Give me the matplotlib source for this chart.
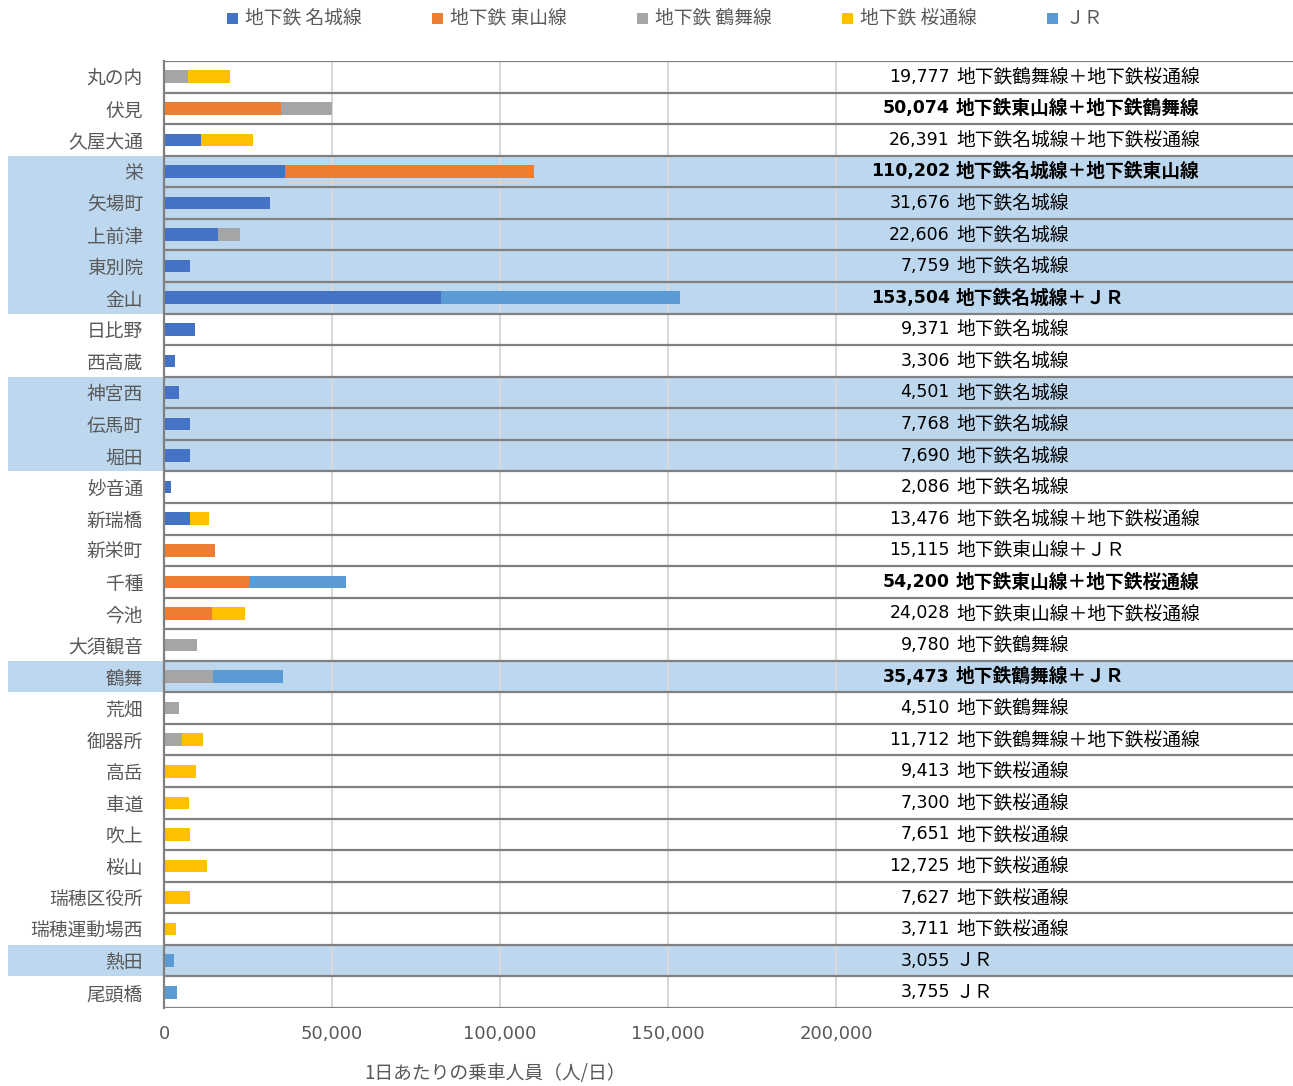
import matplotlib
matplotlib.use('Agg')
import matplotlib.pyplot as plt
from matplotlib.patches import Rectangle
import numpy as np

plt.rcParams['font.family'] = ['Noto Sans CJK JP', 'DejaVu Sans']

# 駅名
stations = ['丸の内', '伏見', '久屋大通', '栄', '矢場町', '上前津', '東別院', '金山',
            '日比野', '西高蔵', '神宮西', '伝馬町', '堀田', '妙音通', '新瑞橋', '新栄町',
            '千種', '今池', '大須観音', '鶴舞', '荒畑', '御器所', '高岳', '車道',
            '吹上', '桜山', '瑞穂区役所', '瑞穂運動場西', '熱田', '尾頭橋']

series_names = ['地下鉄 名城線', '地下鉄 東山線', '地下鉄 鶴舞線', '地下鉄 桜通線', 'ＪＲ']
colors = ['#4472C4', '#ED7D31', '#A5A5A5', '#FFC000', '#5B9BD5']

# 各路線の乗車人員
meijo = [0, 0, 11000, 36000, 31676, 16000, 7759, 82400, 9371, 3306, 4501, 7768, 7690, 2086, 7700,
         0, 0, 0, 0, 0, 0, 0, 0, 0, 0, 0, 0, 0, 0, 0]
higashiyama = [0, 34800, 0, 74202, 0, 0, 0, 0, 0, 0, 0, 0, 0, 0, 0,
               15115, 25300, 14300, 0, 0, 0, 0, 0, 0, 0, 0, 0, 0, 0, 0]
tsurumai = [7100, 15274, 0, 0, 0, 6606, 0, 0, 0, 0, 0, 0, 0, 0, 0,
            0, 0, 0, 9780, 14600, 4510, 5400, 0, 0, 0, 0, 0, 0, 0, 0]
sakuradori = [12677, 0, 15391, 0, 0, 0, 0, 0, 0, 0, 0, 0, 0, 0, 5776,
              0, 0, 9728, 0, 0, 0, 6312, 9413, 7300, 7651, 12725, 7627, 3711, 0, 0]
jr = [0, 0, 0, 0, 0, 0, 0, 71104, 0, 0, 0, 0, 0, 0, 0,
      0, 28900, 0, 0, 20873, 0, 0, 0, 0, 0, 0, 0, 0, 3055, 3755]

# 右側の表示
totals = [19777, 50074, 26391, 110202, 31676, 22606, 7759, 153504, 9371, 3306, 4501, 7768, 7690,
          2086, 13476, 15115, 54200, 24028, 9780, 35473, 4510, 11712, 9413, 7300, 7651, 12725,
          7627, 3711, 3055, 3755]
lines_text = ['地下鉄鶴舞線＋地下鉄桜通線', '地下鉄東山線＋地下鉄鶴舞線', '地下鉄名城線＋地下鉄桜通線',
              '地下鉄名城線＋地下鉄東山線', '地下鉄名城線', '地下鉄名城線', '地下鉄名城線',
              '地下鉄名城線＋ＪＲ', '地下鉄名城線', '地下鉄名城線', '地下鉄名城線', '地下鉄名城線',
              '地下鉄名城線', '地下鉄名城線', '地下鉄名城線＋地下鉄桜通線', '地下鉄東山線＋ＪＲ',
              '地下鉄東山線＋地下鉄桜通線', '地下鉄東山線＋地下鉄桜通線', '地下鉄鶴舞線',
              '地下鉄鶴舞線＋ＪＲ', '地下鉄鶴舞線', '地下鉄鶴舞線＋地下鉄桜通線', '地下鉄桜通線',
              '地下鉄桜通線', '地下鉄桜通線', '地下鉄桜通線', '地下鉄桜通線', '地下鉄桜通線',
              'ＪＲ', 'ＪＲ']
bold_rows = ['伏見', '栄', '金山', '千種', '鶴舞']
highlight_rows = ['栄', '矢場町', '上前津', '東別院', '金山', '神宮西', '伝馬町', '堀田', '鶴舞', '熱田']

W, H = 1293, 1086
fig = plt.figure(figsize=(W / 100, H / 100), dpi=100)
L, R, T, B = 164, 1293, 61, 1008
ax = fig.add_axes([L / W, 1 - B / H, (R - L) / W, (B - T) / H])

n = len(stations)
y = np.arange(n)
xmax = 336000
ax.set_xlim(0, xmax)
ax.set_ylim(n - 0.5, -0.5)

# ハイライト帯
ytr = ax.get_yaxis_transform()
x0 = (8 - L) / (R - L)
for i, s in enumerate(stations):
    if s in highlight_rows:
        ax.add_patch(Rectangle((x0, i - 0.5), 1 - x0, 1, transform=ytr, facecolor='#BDD7EE',
                               edgecolor='none', clip_on=False, zorder=0))

# グリッド
for gx in [50000, 100000, 150000, 200000]:
    ax.axvline(gx, color='#D9D9D9', lw=1.5, zorder=1)
for k in range(n + 1):
    ax.axhline(k - 0.5, color='#808080', lw=1.6, zorder=2)

# 積み上げ棒
left = np.zeros(n)
for vals, c in zip([meijo, higashiyama, tsurumai, sakuradori, jr], colors):
    vals = np.array(vals, dtype=float)
    ax.barh(y, vals, left=left, height=0.4, color=c, zorder=3)
    left += vals

# 右側の数値とラベル
xa = (950 - L) / (R - L)
xb = (956 - L) / (R - L)
for i, s in enumerate(stations):
    fw = 'bold' if s in bold_rows else 'normal'
    ax.text(xa, i, f'{totals[i]:,}', transform=ytr, ha='right', va='center',
            fontsize=12.5, fontweight=fw, color='black', family='DejaVu Sans', zorder=4)
    ax.text(xb, i, lines_text[i], transform=ytr, ha='left', va='center',
            fontsize=13.5, fontweight=fw, color='black', zorder=4)

for sp in ['top', 'right', 'bottom']:
    ax.spines[sp].set_visible(False)
ax.spines['left'].set_color('#808080')
ax.spines['left'].set_linewidth(1.6)
ax.spines['left'].set_zorder(5)

ax.set_yticks(y)
ax.set_yticklabels(stations, fontsize=13.5, color='#595959')
ax.set_xticks([0, 50000, 100000, 150000, 200000])
ax.set_xticklabels(['0', '50,000', '100,000', '150,000', '200,000'], fontsize=13,
                   color='#595959', family='DejaVu Sans')
ax.tick_params(axis='y', length=0, pad=15)
ax.tick_params(axis='x', length=0, pad=12)

fig.text(495 / W, 1 - 1074 / H, '1日あたりの乗車人員（人/日）', ha='center', va='center',
         fontsize=13.5, color='#595959')

# 凡例
for k, (name, c) in enumerate(zip(series_names, colors)):
    sx = 227 + 205 * k
    fig.patches.append(Rectangle((sx / W, 1 - 24 / H), 11 / W, 11 / H, transform=fig.transFigure,
                                 facecolor=c, edgecolor='none'))
    fig.text((sx + 18) / W, 1 - 18 / H, name, ha='left', va='center', fontsize=13.5, color='#595959')

fig.savefig('out.png', dpi=100)
